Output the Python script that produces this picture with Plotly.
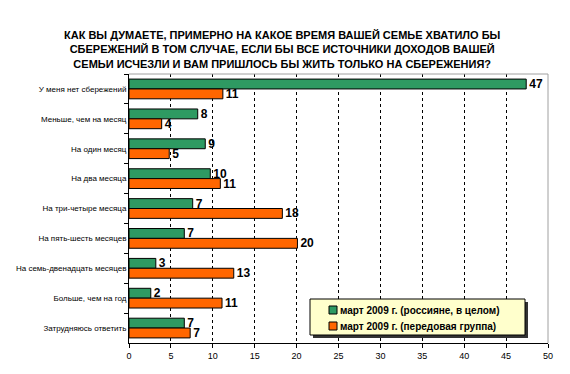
import plotly.graph_objects as go

categories = [
    "У меня нет сбережений",
    "Меньше, чем на месяц",
    "На один месяц",
    "На два месяца",
    "На три-четыре месяца",
    "На пять-шесть месяцев",
    "На семь-двенадцать месяцев",
    "Больше, чем на год",
    "Затрудняюсь ответить",
]
green_values = [47.4, 8.2, 9.1, 9.7, 7.6, 6.6, 3.2, 2.6, 6.6]
green_labels = [47, 8, 9, 10, 7, 7, 3, 2, 7]
orange_values = [11.2, 3.9, 4.8, 10.9, 18.3, 20.1, 12.5, 11.1, 7.3]
orange_labels = [11, 4, 5, 11, 18, 20, 13, 11, 7]
series_names = ["март 2009 г. (россияне, в целом)", "март 2009 г. (передовая группа)"]
series_colors = ["#2E9A62", "#FF6600"]
x_ticks = [0, 5, 10, 15, 20, 25, 30, 35, 40, 45, 50]

title = ("КАК ВЫ ДУМАЕТЕ, ПРИМЕРНО НА КАКОЕ ВРЕМЯ ВАШЕЙ СЕМЬЕ ХВАТИЛО БЫ<br>"
         "СБЕРЕЖЕНИЙ В ТОМ СЛУЧАЕ, ЕСЛИ БЫ ВСЕ ИСТОЧНИКИ ДОХОДОВ ВАШЕЙ<br>"
         "СЕМЬИ ИСЧЕЗЛИ И ВАМ ПРИШЛОСЬ БЫ ЖИТЬ ТОЛЬКО НА СБЕРЕЖЕНИЯ?")

label_font = dict(family="Arial", size=12, color="black", weight="bold")

# plot area in pixels
L, R, T, B = 129, 548, 74, 343
def px_x(x):
    return (x - L) / (R - L)
def px_y(y):
    return (B - y) / (B - T)

fig = go.Figure()
for vals, labs, name, col in [(green_values, green_labels, series_names[0], series_colors[0]),
                              (orange_values, orange_labels, series_names[1], series_colors[1])]:
    fig.add_trace(go.Bar(
        y=categories, x=vals, orientation="h", name=name,
        marker=dict(color=col, line=dict(color="black", width=1)),
        text=[str(v) for v in labs], textposition="outside",
        textfont=label_font, cliponaxis=False, constraintext="none",
        showlegend=False,
    ))

fig.update_layout(
    width=570, height=374,
    margin=dict(l=L, r=570 - R, t=T, b=374 - B, autoexpand=False),
    paper_bgcolor="white", plot_bgcolor="white",
    barmode="group", bargap=0.34, bargroupgap=0,
    showlegend=False,
)
fig.add_annotation(xref="paper", yref="paper", x=px_x(282), y=px_y(49),
                   xanchor="center", yanchor="middle", showarrow=False,
                   text=title, align="center",
                   font=dict(family="Arial", size=11, color="black", weight="bold"))
fig.update_xaxes(
    range=[0, 50], tickvals=x_ticks, showgrid=True, gridcolor="black",
    griddash="dot", gridwidth=1, showline=True, linecolor="black",
    ticks="outside", ticklen=4, tickcolor="black", zeroline=False,
    tickfont=dict(family="Arial", size=9, color="black"),
)
fig.update_yaxes(
    autorange="reversed", showline=True, linecolor="black",
    ticks="outside", ticklen=4, tickcolor="black", tickson="boundaries",
    tickfont=dict(family="Arial", size=8, color="black"),
)
fig.add_shape(type="line", xref="paper", yref="paper", x0=0, x1=1, y0=1, y1=1,
              line=dict(color="#A0A0A0", width=1))
fig.add_shape(type="line", xref="paper", yref="paper", x0=1, x1=1, y0=0, y1=1,
              line=dict(color="#A0A0A0", width=1))

# legend box (Excel style, with shadow)
lx0, lx1, ly0, ly1 = 310, 525, 299, 335
fig.add_shape(type="rect", xref="paper", yref="paper", layer="above",
              x0=px_x(lx0 + 3), x1=px_x(lx1 + 3), y0=px_y(ly1 + 3), y1=px_y(ly0 + 3),
              fillcolor="#333333", line=dict(width=0))
fig.add_shape(type="rect", xref="paper", yref="paper", layer="above",
              x0=px_x(lx0), x1=px_x(lx1), y0=px_y(ly1), y1=px_y(ly0),
              fillcolor="#FFFFCC", line=dict(color="black", width=1))
for i, (name, col) in enumerate(zip(series_names, series_colors)):
    yc = 310 + 16 * i
    fig.add_shape(type="rect", xref="paper", yref="paper", layer="above",
                  x0=px_x(329), x1=px_x(337), y0=px_y(yc + 4), y1=px_y(yc - 4),
                  fillcolor=col, line=dict(color="black", width=1))
    fig.add_annotation(xref="paper", yref="paper", x=px_x(338), y=px_y(yc),
                       xanchor="left", yanchor="middle", showarrow=False,
                       text=name,
                       font=dict(family="Arial", size=10, color="black", weight="bold"))

fig.write_html("out.html", config={"displayModeBar": False},
               post_script="document.body.style.margin='0';document.body.style.padding='0';")
